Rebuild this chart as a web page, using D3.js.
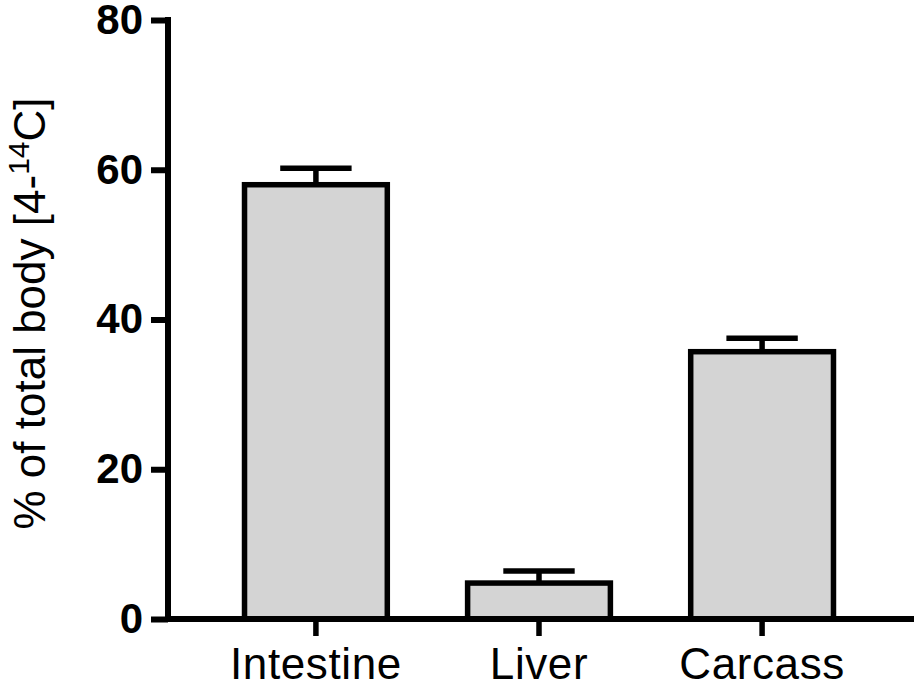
<!DOCTYPE html>
<html>
<head>
<meta charset="utf-8">
<script src="https://cdn.jsdelivr.net/npm/d3@7"></script>
<style>
  html, body { margin: 0; padding: 0; background: #fff; }
  svg { display: block; }
  text { font-family: "Liberation Sans", Arial, Helvetica, sans-serif; fill: #000; }
</style>
</head>
<body>
<svg id="chart" width="917" height="686"></svg>
<script>
const categories = ["Intestine", "Liver", "Carcass"];
const means = [58.0, 4.8, 35.7];
const sems = [2.2, 1.6, 1.8];
const yTicks = [0, 20, 40, 60, 80];

const svg = d3.select("#chart");
const x0 = 168, x1 = 910, xAxisEnd = 914;
const yTop = 20, yBottom = 619;

const y = d3.scaleLinear().domain([0, 80]).range([yBottom, yTop]);
const x = d3.scaleBand().domain(categories).range([x0, x1])
  .paddingInner(0.36).paddingOuter(0.343);

const data = categories.map((c, i) => ({ c, m: means[i], s: sems[i] }));
const sw = 5.5;

// bars
svg.append("g").selectAll("rect").data(data).join("rect")
  .attr("x", d => x(d.c))
  .attr("y", d => y(d.m))
  .attr("width", x.bandwidth())
  .attr("height", d => y(0) - y(d.m))
  .attr("fill", "#d4d4d4")
  .attr("stroke", "#000")
  .attr("stroke-width", sw);

// error bars (upper only)
const eg = svg.append("g").attr("stroke", "#000").attr("stroke-width", sw);
data.forEach(d => {
  const cx = x(d.c) + x.bandwidth() / 2;
  eg.append("line").attr("x1", cx).attr("x2", cx)
    .attr("y1", y(d.m)).attr("y2", y(d.m + d.s));
  eg.append("line").attr("x1", cx - x.bandwidth() / 4).attr("x2", cx + x.bandwidth() / 4)
    .attr("y1", y(d.m + d.s)).attr("y2", y(d.m + d.s));
});

// y axis
const yAxis = d3.axisLeft(y).tickValues(yTicks).tickSize(17).tickPadding(8).tickFormat(d3.format("d"));
const gy = svg.append("g").attr("transform", `translate(${x0},0)`).call(yAxis);
gy.select(".domain").remove();
gy.selectAll(".tick line").attr("stroke", "#000").attr("stroke-width", 6);
gy.selectAll(".tick text")
  .attr("font-size", 42).attr("font-weight", "bold")
  .attr("font-family", "'Liberation Sans', Arial, sans-serif")
  .attr("fill", "#000");
gy.append("line").attr("x1", 0).attr("x2", 0)
  .attr("y1", yTop - 3).attr("y2", yBottom + 3)
  .attr("stroke", "#000").attr("stroke-width", 6);

// x axis
const xAxis = d3.axisBottom(x).tickSize(17).tickPadding(12);
const gx = svg.append("g").attr("transform", `translate(0,${yBottom})`).call(xAxis);
gx.select(".domain").remove();
gx.append("line").attr("x1", x0 - 3).attr("x2", xAxisEnd)
  .attr("y1", 0).attr("y2", 0)
  .attr("stroke", "#000").attr("stroke-width", 6);
gx.selectAll(".tick line").attr("stroke", "#000").attr("stroke-width", 5.5);
gx.selectAll(".tick text")
  .attr("font-size", 44)
  .attr("letter-spacing", "0.6px")
  .attr("font-family", "'Liberation Sans', Arial, sans-serif")
  .attr("fill", "#000")
  .attr("dy", "0.71em");

// y label
const yl = svg.append("text")
  .attr("transform", `translate(45,${(94 + 533) / 2}) rotate(-90)`)
  .attr("text-anchor", "middle")
  .attr("font-size", 44);
yl.append("tspan").text("% of total body [4-");
yl.append("tspan").attr("font-size", 30).attr("dy", -16).text("14");
yl.append("tspan").attr("dy", 16).text("C]");
</script>
</body>
</html>
